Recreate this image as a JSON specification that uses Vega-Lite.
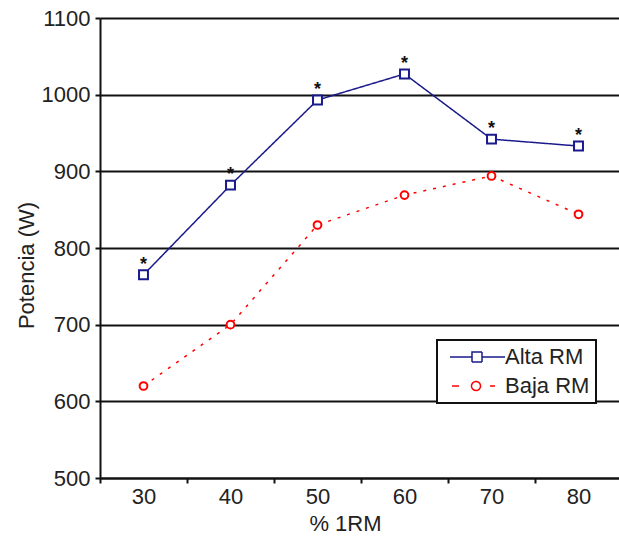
{
  "$schema": "https://vega.github.io/schema/vega-lite/v6.json",
  "autosize": "none",
  "width": 522,
  "height": 460,
  "padding": {"left": 100, "top": 18, "right": 0, "bottom": 64},
  "background": "white",
  "config": {
    "view": {"stroke": null},
    "font": "Liberation Sans",
    "axis": {
      "labelFont": "Liberation Sans",
      "titleFont": "Liberation Sans",
      "labelFontSize": 22,
      "titleFontSize": 22,
      "labelColor": "#222222",
      "titleColor": "#222222",
      "titleFontWeight": "normal",
      "domainColor": "#111111",
      "domainWidth": 2,
      "tickColor": "#111111",
      "tickWidth": 2,
      "tickSize": 5
    }
  },
  "data": {
    "values": [
      {"rm": 30, "potencia": 765, "serie": "Alta RM"},
      {"rm": 40, "potencia": 882, "serie": "Alta RM"},
      {"rm": 50, "potencia": 993, "serie": "Alta RM"},
      {"rm": 60, "potencia": 1027, "serie": "Alta RM"},
      {"rm": 70, "potencia": 942, "serie": "Alta RM"},
      {"rm": 80, "potencia": 933, "serie": "Alta RM"},
      {"rm": 30, "potencia": 620, "serie": "Baja RM"},
      {"rm": 40, "potencia": 700, "serie": "Baja RM"},
      {"rm": 50, "potencia": 830, "serie": "Baja RM"},
      {"rm": 60, "potencia": 869, "serie": "Baja RM"},
      {"rm": 70, "potencia": 894, "serie": "Baja RM"},
      {"rm": 80, "potencia": 844, "serie": "Baja RM"}
    ]
  },
  "encoding": {
    "x": {
      "field": "rm",
      "type": "quantitative",
      "scale": {"domain": [25, 85], "nice": false, "zero": false},
      "axis": {
        "title": "% 1RM",
        "values": [25, 30, 35, 40, 45, 50, 55, 60, 65, 70, 75, 80, 85],
        "labelExpr": "datum.value % 10 == 0 ? datum.label : ''",
        "tickOpacity": {"condition": {"test": "datum.value % 10 == 0", "value": 0}, "value": 1},
        "grid": false,
        "labelPadding": 3,
        "titlePadding": 6,
        "titleX": 245,
        "labelFlush": false,
        "labelOverlap": false
      }
    },
    "y": {
      "field": "potencia",
      "type": "quantitative",
      "scale": {"domain": [500, 1100], "nice": false, "zero": false},
      "axis": {
        "title": "Potencia (W)",
        "format": "d",
        "values": [500, 600, 700, 800, 900, 1000, 1100],
        "grid": true,
        "gridColor": "#111111",
        "gridWidth": 2,
        "gridOpacity": 1,
        "labelPadding": 5,
        "titleX": -74,
        "titleY": 247,
        "titleBaseline": "middle",
        "titleAngle": -90
      }
    }
  },
  "layer": [
    {
      "mark": {"type": "line", "strokeWidth": 1.5},
      "encoding": {
        "color": {
          "field": "serie",
          "type": "nominal",
          "scale": {"domain": ["Alta RM", "Baja RM"], "range": ["#1a1a8c", "#ff0000"]},
          "legend": {
            "title": null,
            "orient": "none",
            "legendX": 337,
            "legendY": 322,
            "padding": 6,
            "strokeColor": "#111111",
            "fillColor": "white",
            "labelFont": "Liberation Sans",
            "labelFontSize": 22,
            "labelColor": "#222222",
            "labelOffset": 40,
            "rowPadding": 7,
            "symbolSize": 100,
            "symbolStrokeWidth": 1.5,
            "encode": {
              "legend": {"update": {"strokeWidth": {"value": 2}}},
              "symbols": {
                "update": {
                  "shape": {"signal": "datum.value === 'Alta RM' ? 'M-0.8,0H3.6M5.6,0H10.2M3.6,-1H5.6V1H3.6Z' : 'M-0.4,0H1M7.2,0H8.2M5.3,0A0.9,0.9 0 1 1 3.5,0A0.9,0.9 0 1 1 5.3,0Z'"},
                  "fill": {"value": "white"},
                  "strokeDash": {"value": [1, 0]}
                }
              }
            }
          }
        },
        "strokeDash": {
          "condition": {"test": "datum.serie === 'Baja RM'", "value": [3, 7]},
          "value": [1, 0]
        }
      }
    },
    {
      "transform": [{"filter": "datum.serie === 'Alta RM'"}],
      "mark": {"type": "point", "shape": "square", "filled": true, "fill": "white", "stroke": "#1a1a8c", "strokeWidth": 2, "size": 80, "opacity": 1}
    },
    {
      "transform": [{"filter": "datum.serie === 'Baja RM'"}],
      "mark": {"type": "point", "shape": "circle", "filled": true, "fill": "white", "stroke": "#ff0000", "strokeWidth": 2, "size": 60, "opacity": 1}
    },
    {
      "transform": [{"filter": "datum.serie === 'Alta RM'"}],
      "mark": {"type": "text", "text": "*", "font": "Liberation Sans", "fontSize": 18, "fontWeight": "bold", "color": "#111111", "baseline": "alphabetic", "dy": -5}
    }
  ]
}
